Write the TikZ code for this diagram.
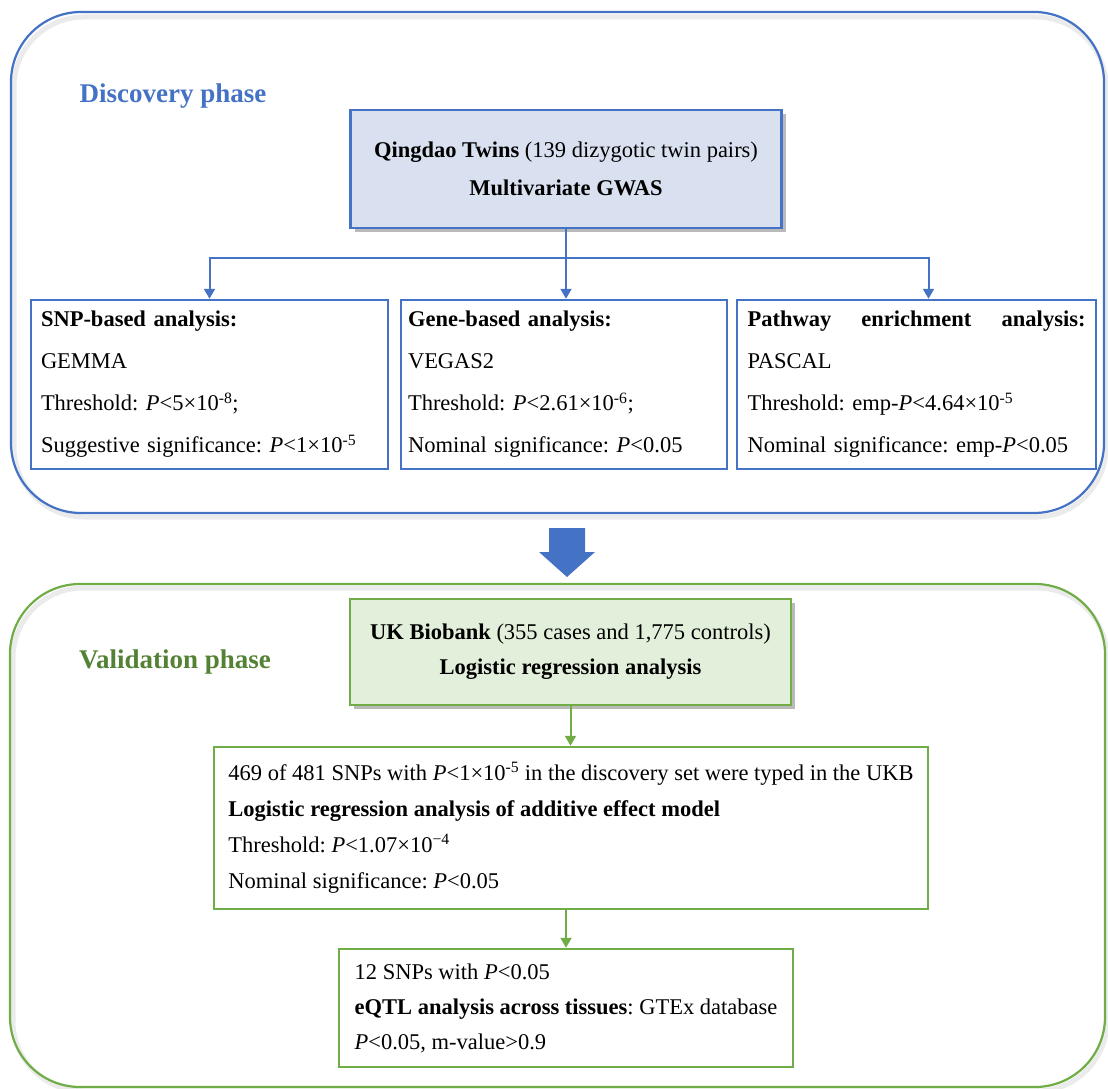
\documentclass[tikz,border=0pt]{standalone}
\usepackage{fontspec}
\setmainfont{Liberation Serif}
\usetikzlibrary{arrows.meta,shadows}

\definecolor{discblue}{HTML}{4472C4}
\definecolor{discfill}{HTML}{D9E1F1}
\definecolor{valgreen}{HTML}{70AD47}
\definecolor{valtext}{HTML}{548235}
\definecolor{valfill}{HTML}{E2EFDA}

\frenchspacing

\tikzset{
  phase/.style={font=\fontsize{27}{30}\selectfont\bfseries},
  frame/.style={line width=2.2pt, rounded corners=70pt},
  frameshadow/.style={line width=5pt, black!8, rounded corners=70pt},
  stepbox/.style={line width=2.5pt, inner xsep=0pt, inner ysep=0pt,
    font=\fontsize{22.5}{42}\selectfont},
  mainbox/.style={stepbox, align=center,
    drop shadow={shadow xshift=4pt, shadow yshift=-4pt, fill=black!45, opacity=.6}},
  bline/.style={discblue, line width=2pt},
  gline/.style={valgreen, line width=2pt},
}

\begin{document}
\begin{tikzpicture}[x=1pt, y=-1pt, >={Triangle[width=11pt,length=10pt]}]
  \useasboundingbox (0,0) rectangle (1108,1089);

  % discovery phase
  \draw[frameshadow] (14,17) rectangle (1106,517);
  \draw[frame, discblue] (11,12) rectangle (1104,513);
  \node[phase, text=discblue] (disclabel) at (173,96) {Discovery phase};

  \node[mainbox, draw=discblue, fill=discfill, minimum width=431, minimum height=118,
        font=\fontsize{22.5}{38}\selectfont] (qingdao) at (566,169)
    {\textbf{Qingdao Twins} (139 dizygotic twin pairs)\\ \textbf{Multivariate GWAS}};

  \node[stepbox, draw=discblue, minimum width=357, minimum height=169,
        text width=337, align=left] (snp) at (209.5,384.5)
    {\textbf{SNP-based analysis:}\\
     GEMMA\\
     Threshold: \textit{P}<5×10\textsuperscript{-8};\\
     Suggestive significance: \textit{P}<1×10\textsuperscript{-5}};
  \node[stepbox, draw=discblue, minimum width=326, minimum height=169,
        text width=312, align=left] (gene) at (564,384.5)
    {\textbf{Gene-based analysis:}\\
     VEGAS2\\
     Threshold: \textit{P}<2.61×10\textsuperscript{-6};\\
     Nominal significance: \textit{P}<0.05};
  \node[stepbox, draw=discblue, minimum width=359, minimum height=169,
        text width=338, align=left] (pathway) at (916.5,384.5)
    {\textbf{Pathway}\hfill\textbf{enrichment}\hfill\textbf{analysis:}\\
     PASCAL\\
     Threshold: emp-\textit{P}<4.64×10\textsuperscript{-5}\\
     Nominal significance: emp-\textit{P}<0.05};

  \coordinate (split) at (qingdao.south |- 0,258);
  \draw[bline] (qingdao.south) -- (split);
  \draw[bline, ->] (split) -- (split |- gene.north);
  \draw[bline, ->] (split) -| (snp.north);
  \draw[bline, ->] (split) -| ([xshift=12pt]pathway.north);

  % big arrow between phases
  \coordinate (tip) at (567,577);
  \fill[discblue] (549,528) -- (585,528) -- (585,552) -- (595,552) -- (tip)
    -- (539,552) -- (549,552) -- cycle;

  % validation phase
  \draw[frameshadow] (13,588) rectangle (1107,1091);
  \draw[frame, valgreen] (10,584) rectangle (1105,1087);
  \node[phase, text=valtext] (vallabel) at (175,662) {Validation phase};

  \node[mainbox, draw=valgreen, fill=valfill, minimum width=441, minimum height=106,
        font=\fontsize{22.5}{35}\selectfont] (ukb) at (570.5,652)
    {\textbf{UK Biobank} (355 cases and 1,775 controls)\\ \textbf{Logistic regression analysis}};

  \node[stepbox, draw=valgreen, minimum width=714, minimum height=162, align=left,
        font=\fontsize{22.5}{36}\selectfont] (typed) at (571,828)
    {469 of 481 SNPs with \textit{P}<1×10\textsuperscript{-5} in the discovery set were typed in the UKB\\
     \textbf{Logistic regression analysis of additive effect model}\\
     Threshold: \textit{P}<1.07×10\textsuperscript{−4}\\
     Nominal significance: \textit{P}<0.05};

  \node[stepbox, draw=valgreen, minimum width=454, minimum height=118, align=left,
        font=\fontsize{22.5}{35}\selectfont] (eqtl) at (566,1008)
    {12 SNPs with \textit{P}<0.05\\
     \textbf{eQTL analysis across tissues}: GTEx database\\
     \textit{P}<0.05, m-value>0.9};

  \draw[gline, ->] (ukb.south) -- (ukb.south |- typed.north);
  \draw[gline, ->] (typed.south -| eqtl.north) -- (eqtl.north);
\end{tikzpicture}
\end{document}
